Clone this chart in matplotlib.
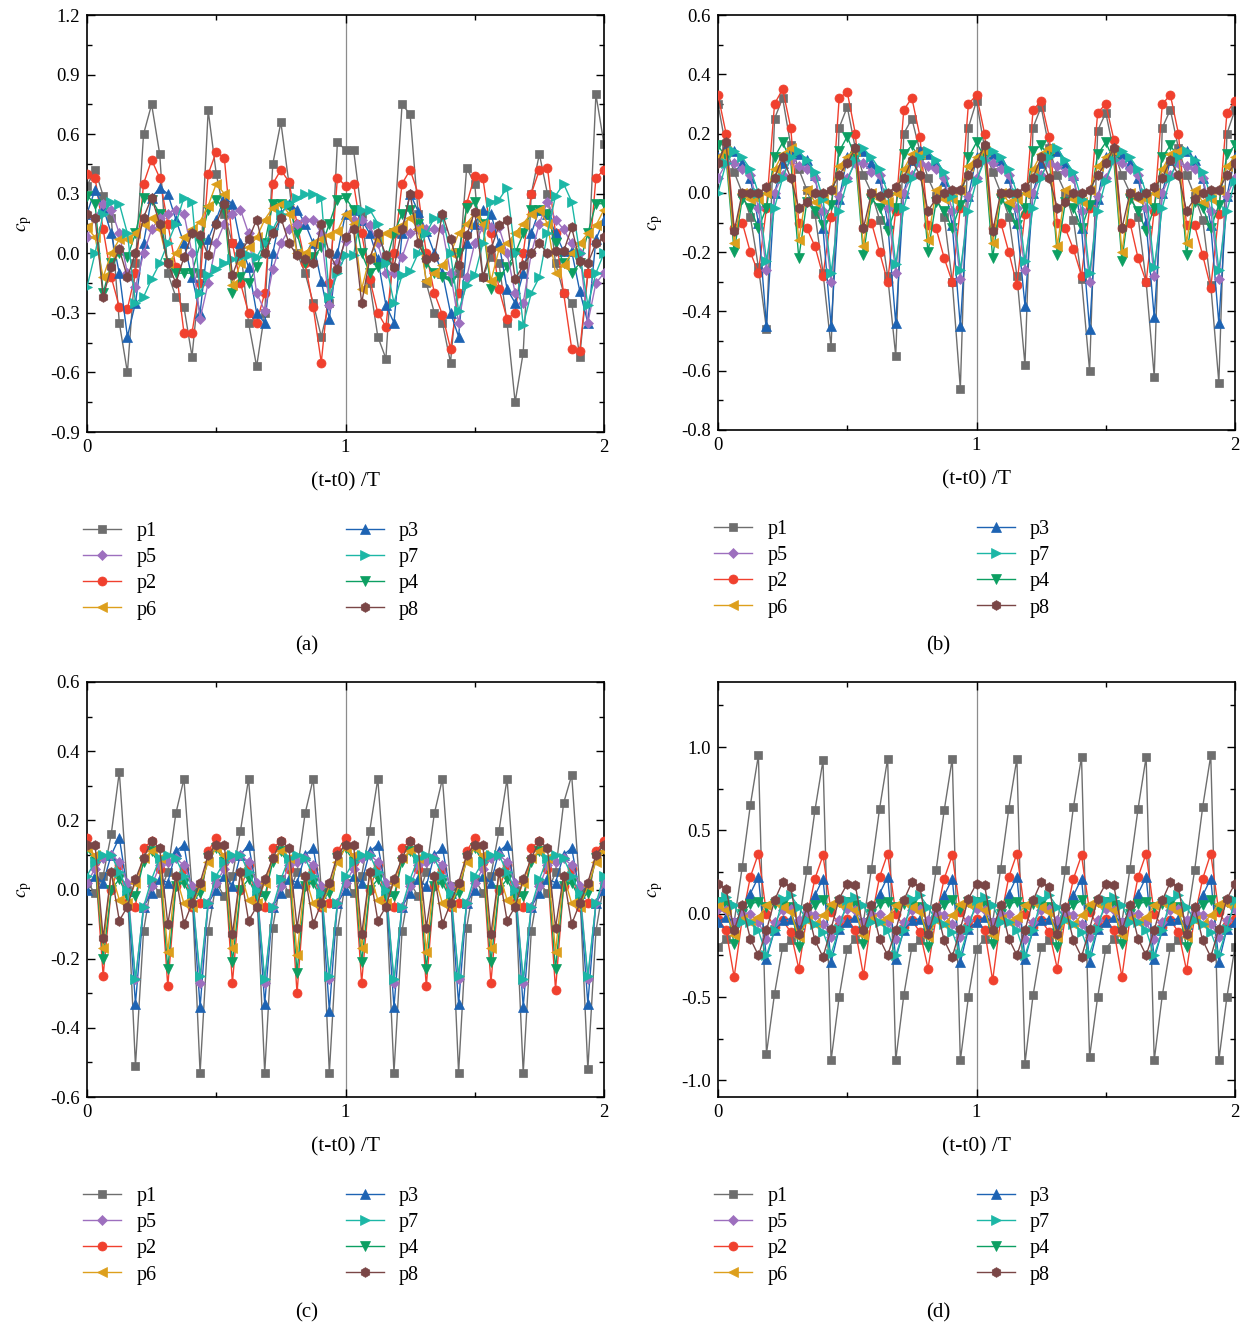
import numpy as np
import matplotlib
matplotlib.use("Agg")
import matplotlib.pyplot as plt
from matplotlib.ticker import MultipleLocator, FormatStrFormatter

plt.rcParams['font.family'] = ['Liberation Serif', 'DejaVu Serif']
plt.rcParams['mathtext.fontset'] = 'stix'

# time axis, 2 periods sampled every T/32
t = np.linspace(0, 2, 65)

# ---------------- panel (a) ----------------
a_p1 = [0.34, 0.42, 0.29, 0.18, -0.35, -0.60, -0.05, 0.60,
        0.75, 0.50, -0.10, -0.22, -0.27, -0.52, -0.10, 0.72,
        0.40, 0.20, 0.05, 0.03, -0.35, -0.57, -0.30, 0.45,
        0.66, 0.35, 0.00, -0.10, -0.25, -0.42, -0.25, 0.56,
        0.52, 0.52, 0.20, -0.15, -0.42, -0.53, 0.10, 0.75,
        0.70, 0.20, -0.15, -0.30, -0.35, -0.55, -0.10, 0.43,
        0.35, -0.12, -0.02, -0.05, -0.35, -0.75, -0.50, 0.30,
        0.50, 0.30, -0.05, -0.20, -0.25, -0.52, -0.10, 0.80,
        0.55]
a_p2 = [0.40, 0.38, 0.12, -0.12, -0.27, -0.28, -0.10, 0.35,
        0.47, 0.38, 0.15, -0.07, -0.40, -0.40, -0.15, 0.40,
        0.51, 0.48, 0.05, -0.15, -0.30, -0.35, -0.20, 0.35,
        0.42, 0.36, 0.15, -0.05, -0.27, -0.55, -0.15, 0.38,
        0.34, 0.35, 0.10, -0.13, -0.30, -0.37, 0.00, 0.35,
        0.42, 0.30, 0.00, -0.20, -0.31, -0.48, -0.20, 0.25,
        0.39, 0.38, 0.10, -0.18, -0.33, -0.30, 0.00, 0.30,
        0.42, 0.43, 0.10, -0.20, -0.48, -0.49, -0.10, 0.38,
        0.42]
a_p3 = [0.20, 0.32, 0.23, 0.10, -0.10, -0.42, -0.25, 0.05,
        0.28, 0.33, 0.30, 0.17, 0.05, -0.12, -0.30, 0.07,
        0.17, 0.28, 0.25, 0.05, -0.07, -0.30, -0.35, 0.00,
        0.20, 0.25, 0.22, 0.15, 0.05, -0.14, -0.33, 0.00,
        0.20, 0.22, 0.17, 0.10, -0.03, -0.26, -0.35, 0.10,
        0.30, 0.21, 0.11, 0.00, -0.10, -0.30, -0.42, 0.05,
        0.15, 0.22, 0.20, 0.05, -0.18, -0.25, -0.10, 0.10,
        0.22, 0.20, 0.10, 0.01, 0.01, -0.19, -0.35, 0.07,
        0.17]
a_p4 = [0.29, 0.25, -0.20, -0.05, 0.00, -0.02, 0.10, 0.28,
        0.27, 0.20, -0.05, -0.10, -0.10, -0.10, 0.05, 0.22,
        0.27, 0.22, -0.20, -0.12, -0.15, -0.07, 0.05, 0.25,
        0.25, 0.24, 0.10, -0.05, -0.02, 0.03, 0.15, 0.27,
        0.28, 0.22, 0.00, -0.10, -0.07, -0.05, 0.10, 0.20,
        0.22, 0.15, -0.05, -0.10, -0.12, -0.14, 0.00, 0.23,
        0.26, 0.15, -0.18, -0.12, -0.07, 0.00, 0.10, 0.22,
        0.22, 0.20, 0.05, -0.05, -0.10, -0.05, 0.10, 0.25,
        0.25]
a_p5 = [0.08, 0.18, 0.25, 0.22, 0.10, -0.10, -0.17, 0.00,
        0.12, 0.18, 0.20, 0.22, 0.20, 0.00, -0.33, -0.15,
        0.05, 0.15, 0.20, 0.22, 0.10, -0.20, -0.29, -0.08,
        0.05, 0.12, 0.15, 0.17, 0.17, 0.10, -0.26, -0.05,
        0.06, 0.17, 0.17, 0.14, 0.05, -0.10, -0.10, -0.02,
        0.10, 0.12, 0.12, 0.12, 0.12, -0.10, -0.35, -0.12,
        0.05, 0.13, 0.13, 0.13, 0.00, -0.20, -0.25, 0.00,
        0.15, 0.26, 0.17, 0.12, 0.05, 0.00, -0.35, -0.15,
        -0.10]
a_p6 = [0.13, 0.08, -0.12, 0.00, 0.07, 0.07, 0.10, 0.15,
        0.18, 0.12, -0.05, 0.00, 0.08, 0.12, 0.16, 0.24,
        0.35, 0.30, -0.16, -0.05, 0.03, 0.08, 0.17, 0.23,
        0.25, 0.20, 0.00, 0.00, 0.05, 0.07, 0.09, 0.11,
        0.20, 0.15, -0.18, -0.02, 0.07, 0.10, 0.12, 0.14,
        0.18, 0.12, -0.14, -0.10, -0.06, 0.00, 0.10, 0.15,
        0.20, 0.15, -0.14, 0.02, 0.05, 0.10, 0.15, 0.20,
        0.22, 0.15, -0.10, -0.06, 0.00, 0.05, 0.10, 0.14,
        0.22]
a_p7 = [-0.17, 0.00, 0.20, 0.26, 0.25, 0.10, -0.25, -0.22,
        -0.13, -0.05, 0.05, 0.15, 0.28, 0.26, -0.20, -0.11,
        -0.08, -0.05, -0.03, -0.02, -0.01, -0.02, 0.05, 0.12,
        0.20, 0.25, 0.28, 0.30, 0.30, 0.28, -0.22, -0.10,
        -0.01, -0.01, 0.22, 0.22, 0.15, -0.05, -0.25, -0.11,
        -0.09, 0.00, 0.10, 0.18, 0.18, 0.00, -0.29, -0.16,
        -0.11, 0.05, 0.26, 0.27, 0.33, 0.00, -0.36, -0.20,
        -0.12, 0.10, 0.29, 0.35, 0.26, 0.00, -0.26, -0.10,
        0.00]
a_p8 = [0.20, 0.18, -0.22, -0.07, 0.02, -0.12, 0.00, 0.18,
        0.28, 0.15, -0.05, -0.15, -0.02, 0.10, 0.09, -0.01,
        0.15, 0.25, -0.11, 0.00, 0.07, 0.17, 0.00, 0.10,
        0.18, 0.05, -0.01, -0.03, -0.05, 0.15, 0.00, -0.08,
        0.08, 0.12, -0.25, -0.03, 0.10, -0.01, -0.07, 0.12,
        0.30, 0.05, -0.03, -0.02, 0.20, 0.07, -0.06, 0.09,
        0.21, -0.12, 0.02, 0.14, 0.17, -0.13, -0.06, 0.00,
        0.05, 0.00, 0.01, 0.01, 0.13, -0.04, -0.05, 0.05,
        0.08]

# ---------------- panel (b) ----------------
b_p1 = [0.30, 0.15, 0.07, 0.00, -0.08, -0.25, -0.46, 0.25,
        0.32, 0.16, 0.08, 0.01, -0.07, -0.27, -0.52, 0.22,
        0.29, 0.15, 0.06, 0.00, -0.09, -0.28, -0.55, 0.20,
        0.25, 0.14, 0.05, -0.01, -0.08, -0.30, -0.66, 0.22,
        0.31, 0.15, 0.07, 0.00, -0.08, -0.28, -0.58, 0.22,
        0.29, 0.15, 0.06, 0.00, -0.09, -0.29, -0.60, 0.21,
        0.27, 0.14, 0.06, 0.00, -0.08, -0.30, -0.62, 0.22,
        0.28, 0.15, 0.06, -0.01, -0.09, -0.31, -0.64, 0.20,
        0.28]
b_p2 = [0.33, 0.20, -0.12, -0.10, -0.20, -0.27, -0.05, 0.30,
        0.35, 0.22, -0.10, -0.12, -0.18, -0.28, -0.08, 0.32,
        0.34, 0.20, -0.12, -0.10, -0.20, -0.30, -0.06, 0.28,
        0.32, 0.19, -0.11, -0.12, -0.22, -0.30, -0.05, 0.30,
        0.33, 0.20, -0.12, -0.10, -0.20, -0.31, -0.07, 0.28,
        0.31, 0.19, -0.10, -0.12, -0.19, -0.28, -0.05, 0.27,
        0.30, 0.18, -0.12, -0.10, -0.22, -0.30, -0.06, 0.30,
        0.33, 0.20, -0.11, -0.11, -0.21, -0.32, -0.07, 0.27,
        0.31]
b_p3 = [0.12, 0.15, 0.14, 0.10, 0.05, -0.10, -0.45, 0.00,
        0.10, 0.14, 0.13, 0.11, 0.06, -0.12, -0.45, -0.02,
        0.12, 0.15, 0.14, 0.10, 0.05, -0.10, -0.44, 0.00,
        0.11, 0.14, 0.13, 0.10, 0.04, -0.11, -0.45, -0.01,
        0.12, 0.15, 0.13, 0.11, 0.05, -0.10, -0.38, 0.00,
        0.10, 0.14, 0.14, 0.10, 0.06, -0.12, -0.46, -0.02,
        0.12, 0.15, 0.13, 0.10, 0.05, -0.10, -0.42, 0.00,
        0.11, 0.14, 0.14, 0.11, 0.05, -0.11, -0.44, -0.01,
        0.12]
b_p4 = [0.16, 0.12, -0.20, -0.02, -0.05, -0.12, -0.05, 0.12,
        0.17, 0.11, -0.22, -0.03, -0.06, -0.11, -0.04, 0.14,
        0.19, 0.12, -0.21, -0.02, -0.05, -0.13, -0.05, 0.13,
        0.16, 0.11, -0.20, -0.03, -0.06, -0.12, -0.04, 0.12,
        0.17, 0.12, -0.22, -0.02, -0.05, -0.11, -0.05, 0.14,
        0.16, 0.12, -0.21, -0.03, -0.05, -0.12, -0.04, 0.13,
        0.17, 0.11, -0.23, -0.02, -0.06, -0.13, -0.05, 0.12,
        0.16, 0.12, -0.21, -0.03, -0.05, -0.12, -0.04, 0.13,
        0.16]
b_p5 = [0.05, 0.10, 0.10, 0.08, 0.06, -0.05, -0.26, 0.00,
        0.06, 0.11, 0.09, 0.08, 0.05, -0.06, -0.30, -0.01,
        0.05, 0.10, 0.10, 0.07, 0.06, -0.05, -0.27, 0.00,
        0.06, 0.10, 0.09, 0.08, 0.05, -0.06, -0.29, -0.01,
        0.05, 0.11, 0.10, 0.08, 0.06, -0.05, -0.26, 0.00,
        0.06, 0.10, 0.09, 0.07, 0.05, -0.06, -0.30, -0.01,
        0.05, 0.11, 0.10, 0.08, 0.06, -0.05, -0.28, 0.00,
        0.06, 0.10, 0.09, 0.08, 0.05, -0.06, -0.29, -0.01,
        0.05]
b_p6 = [0.12, 0.14, -0.17, 0.00, -0.02, -0.02, 0.00, 0.08,
        0.13, 0.15, -0.16, 0.01, -0.03, -0.02, 0.01, 0.09,
        0.12, 0.14, -0.18, 0.00, -0.02, -0.03, 0.00, 0.08,
        0.13, 0.13, -0.16, 0.01, -0.02, -0.02, 0.01, 0.09,
        0.12, 0.14, -0.17, 0.00, -0.03, -0.02, 0.00, 0.08,
        0.13, 0.15, -0.18, 0.01, -0.02, -0.03, 0.01, 0.09,
        0.12, 0.14, -0.20, 0.00, -0.02, -0.02, 0.00, 0.08,
        0.13, 0.14, -0.17, 0.01, -0.03, -0.02, 0.01, 0.09,
        0.12]
b_p7 = [0.00, 0.10, 0.14, 0.12, 0.08, 0.00, -0.23, -0.05,
        0.05, 0.12, 0.14, 0.11, 0.07, -0.02, -0.27, -0.06,
        0.04, 0.11, 0.15, 0.12, 0.08, 0.00, -0.24, -0.05,
        0.05, 0.12, 0.14, 0.11, 0.07, -0.01, -0.26, -0.06,
        0.04, 0.11, 0.14, 0.12, 0.08, 0.00, -0.23, -0.05,
        0.05, 0.12, 0.15, 0.11, 0.07, -0.02, -0.27, -0.06,
        0.04, 0.11, 0.14, 0.12, 0.08, 0.00, -0.25, -0.05,
        0.05, 0.12, 0.14, 0.11, 0.07, -0.01, -0.26, -0.06,
        0.04]
b_p8 = [0.10, 0.17, -0.13, 0.00, 0.00, 0.00, 0.02, 0.05,
        0.12, 0.05, -0.05, -0.03, 0.00, 0.00, 0.01, 0.06,
        0.10, 0.15, -0.12, 0.00, -0.01, 0.00, 0.02, 0.05,
        0.11, 0.06, -0.06, -0.02, 0.00, 0.01, 0.01, 0.06,
        0.10, 0.16, -0.13, 0.00, 0.00, 0.00, 0.02, 0.05,
        0.12, 0.05, -0.05, -0.03, 0.00, 0.00, 0.01, 0.06,
        0.10, 0.15, -0.12, 0.00, -0.01, 0.00, 0.02, 0.05,
        0.11, 0.06, -0.06, -0.02, 0.00, 0.01, 0.01, 0.06,
        0.10]

# ---------------- panel (c) ----------------
c_p1 = [0.02, -0.01, 0.04, 0.16, 0.34, 0.00, -0.51, -0.12,
        0.02, -0.01, 0.05, 0.22, 0.32, 0.00, -0.53, -0.12,
        0.02, -0.02, 0.04, 0.17, 0.32, 0.01, -0.53, -0.11,
        0.03, -0.01, 0.05, 0.22, 0.32, 0.00, -0.53, -0.12,
        0.02, -0.01, 0.04, 0.17, 0.32, 0.00, -0.53, -0.12,
        0.02, -0.02, 0.05, 0.22, 0.32, 0.01, -0.53, -0.11,
        0.03, -0.01, 0.04, 0.17, 0.32, 0.00, -0.53, -0.12,
        0.02, -0.01, 0.05, 0.25, 0.33, 0.00, -0.52, -0.12,
        0.02]
c_p2 = [0.15, 0.08, -0.25, 0.00, 0.07, -0.04, -0.05, 0.12,
        0.14, 0.06, -0.28, 0.01, 0.06, -0.05, -0.04, 0.11,
        0.15, 0.08, -0.27, 0.00, 0.07, -0.04, -0.05, 0.12,
        0.14, 0.06, -0.30, 0.01, 0.06, -0.05, -0.04, 0.11,
        0.15, 0.08, -0.27, 0.00, 0.07, -0.04, -0.05, 0.12,
        0.14, 0.06, -0.28, 0.01, 0.06, -0.05, -0.04, 0.11,
        0.15, 0.08, -0.27, 0.00, 0.07, -0.04, -0.05, 0.12,
        0.14, 0.06, -0.29, 0.01, 0.06, -0.05, -0.04, 0.11,
        0.14]
c_p3 = [0.00, 0.04, 0.02, 0.10, 0.15, 0.00, -0.33, -0.05,
        -0.01, 0.03, 0.02, 0.11, 0.13, -0.01, -0.34, -0.04,
        0.00, 0.04, 0.01, 0.10, 0.13, 0.00, -0.33, -0.05,
        -0.01, 0.03, 0.02, 0.10, 0.12, -0.01, -0.35, -0.04,
        0.00, 0.04, 0.02, 0.11, 0.13, 0.00, -0.34, -0.05,
        -0.01, 0.03, 0.01, 0.10, 0.12, -0.01, -0.33, -0.04,
        0.00, 0.04, 0.02, 0.11, 0.13, 0.00, -0.34, -0.05,
        -0.01, 0.03, 0.02, 0.10, 0.12, -0.01, -0.33, -0.04,
        0.00]
c_p4 = [0.12, 0.08, -0.20, 0.00, 0.03, -0.02, -0.02, 0.08,
        0.11, 0.07, -0.23, 0.01, 0.02, -0.03, -0.01, 0.09,
        0.12, 0.08, -0.21, 0.00, 0.03, -0.02, -0.02, 0.08,
        0.11, 0.07, -0.24, 0.01, 0.02, -0.03, -0.01, 0.09,
        0.12, 0.08, -0.21, 0.00, 0.03, -0.02, -0.02, 0.08,
        0.11, 0.07, -0.23, 0.01, 0.02, -0.03, -0.01, 0.09,
        0.12, 0.08, -0.21, 0.00, 0.03, -0.02, -0.02, 0.08,
        0.11, 0.07, -0.23, 0.01, 0.02, -0.03, -0.01, 0.09,
        0.12]
c_p5 = [0.02, 0.06, 0.09, 0.10, 0.08, 0.02, -0.26, -0.05,
        0.01, 0.07, 0.08, 0.09, 0.07, 0.01, -0.27, -0.04,
        0.02, 0.06, 0.09, 0.10, 0.08, 0.02, -0.27, -0.05,
        0.01, 0.07, 0.08, 0.09, 0.07, 0.01, -0.26, -0.04,
        0.02, 0.06, 0.09, 0.10, 0.08, 0.02, -0.27, -0.05,
        0.01, 0.07, 0.08, 0.09, 0.07, 0.01, -0.26, -0.04,
        0.02, 0.06, 0.09, 0.10, 0.08, 0.02, -0.27, -0.05,
        0.01, 0.07, 0.08, 0.09, 0.07, 0.01, -0.26, -0.04,
        0.02]
c_p6 = [0.12, 0.10, -0.17, 0.05, -0.03, -0.04, 0.02, 0.09,
        0.11, 0.09, -0.18, 0.04, -0.04, -0.05, 0.01, 0.08,
        0.12, 0.10, -0.17, 0.05, -0.03, -0.04, 0.02, 0.09,
        0.11, 0.09, -0.19, 0.04, -0.04, -0.05, 0.01, 0.08,
        0.12, 0.10, -0.17, 0.05, -0.03, -0.04, 0.02, 0.09,
        0.11, 0.09, -0.18, 0.04, -0.04, -0.05, 0.01, 0.08,
        0.12, 0.10, -0.17, 0.05, -0.03, -0.04, 0.02, 0.09,
        0.11, 0.09, -0.18, 0.04, -0.04, -0.05, 0.01, 0.08,
        0.11]
c_p7 = [0.04, 0.08, 0.10, 0.10, 0.05, 0.00, -0.26, -0.05,
        0.03, 0.09, 0.10, 0.09, 0.04, -0.01, -0.25, -0.04,
        0.04, 0.08, 0.10, 0.10, 0.05, 0.00, -0.26, -0.05,
        0.03, 0.09, 0.10, 0.09, 0.04, -0.01, -0.25, -0.04,
        0.04, 0.08, 0.10, 0.10, 0.05, 0.00, -0.26, -0.05,
        0.03, 0.09, 0.10, 0.09, 0.04, -0.01, -0.25, -0.04,
        0.04, 0.08, 0.10, 0.10, 0.05, 0.00, -0.26, -0.05,
        0.03, 0.09, 0.10, 0.09, 0.04, -0.01, -0.25, -0.04,
        0.04]
c_p8 = [0.13, 0.13, -0.14, 0.05, -0.09, -0.05, 0.03, 0.09,
        0.14, 0.12, -0.10, 0.04, -0.10, -0.04, 0.02, 0.10,
        0.13, 0.13, -0.13, 0.05, -0.09, -0.05, 0.03, 0.09,
        0.14, 0.12, -0.11, 0.04, -0.10, -0.04, 0.02, 0.10,
        0.13, 0.13, -0.13, 0.05, -0.09, -0.05, 0.03, 0.09,
        0.14, 0.12, -0.11, 0.04, -0.10, -0.04, 0.02, 0.10,
        0.13, 0.13, -0.13, 0.05, -0.09, -0.05, 0.03, 0.09,
        0.14, 0.12, -0.11, 0.04, -0.10, -0.04, 0.02, 0.10,
        0.13]

# ---------------- panel (d) ----------------
d_p1 = [-0.20, -0.15, -0.05, 0.28, 0.65, 0.95, -0.84, -0.48,
        -0.20, -0.16, -0.06, 0.26, 0.62, 0.92, -0.88, -0.50,
        -0.21, -0.15, -0.05, 0.27, 0.63, 0.93, -0.88, -0.49,
        -0.20, -0.16, -0.06, 0.26, 0.62, 0.93, -0.88, -0.50,
        -0.21, -0.15, -0.05, 0.27, 0.63, 0.93, -0.90, -0.49,
        -0.20, -0.16, -0.06, 0.26, 0.64, 0.94, -0.86, -0.50,
        -0.21, -0.15, -0.05, 0.27, 0.63, 0.94, -0.88, -0.49,
        -0.20, -0.16, -0.06, 0.26, 0.64, 0.95, -0.88, -0.50,
        -0.20]
d_p2 = [-0.03, -0.10, -0.38, -0.03, 0.22, 0.36, 0.00, -0.08,
        -0.04, -0.11, -0.33, -0.02, 0.21, 0.35, 0.01, -0.07,
        -0.03, -0.10, -0.37, -0.03, 0.22, 0.36, 0.00, -0.08,
        -0.04, -0.11, -0.33, -0.02, 0.21, 0.35, 0.01, -0.07,
        -0.03, -0.10, -0.40, -0.03, 0.22, 0.36, 0.00, -0.08,
        -0.04, -0.11, -0.33, -0.02, 0.21, 0.35, 0.01, -0.07,
        -0.03, -0.10, -0.38, -0.03, 0.22, 0.36, 0.00, -0.08,
        -0.04, -0.11, -0.34, -0.02, 0.21, 0.36, 0.01, -0.07,
        -0.03]
d_p3 = [-0.05, -0.02, -0.05, 0.00, 0.12, 0.22, -0.27, -0.10,
        -0.04, -0.03, -0.06, 0.01, 0.11, 0.21, -0.29, -0.09,
        -0.05, -0.02, -0.05, 0.00, 0.12, 0.22, -0.27, -0.10,
        -0.04, -0.03, -0.06, 0.01, 0.11, 0.21, -0.29, -0.09,
        -0.05, -0.02, -0.05, 0.00, 0.12, 0.22, -0.27, -0.10,
        -0.04, -0.03, -0.06, 0.01, 0.11, 0.21, -0.29, -0.09,
        -0.05, -0.02, -0.05, 0.00, 0.12, 0.22, -0.27, -0.10,
        -0.04, -0.03, -0.06, 0.01, 0.11, 0.21, -0.29, -0.09,
        -0.05]
d_p4 = [0.07, 0.05, -0.18, 0.00, 0.06, 0.07, 0.04, 0.06,
        0.06, 0.04, -0.20, 0.01, 0.05, 0.08, 0.03, 0.07,
        0.07, 0.05, -0.18, 0.00, 0.06, 0.07, 0.04, 0.06,
        0.06, 0.04, -0.20, 0.01, 0.05, 0.08, 0.03, 0.07,
        0.07, 0.05, -0.18, 0.00, 0.06, 0.07, 0.04, 0.06,
        0.06, 0.04, -0.20, 0.01, 0.05, 0.08, 0.03, 0.07,
        0.07, 0.05, -0.18, 0.00, 0.06, 0.07, 0.04, 0.06,
        0.06, 0.04, -0.20, 0.01, 0.05, 0.08, 0.03, 0.07,
        0.07]
d_p5 = [0.03, 0.02, -0.05, 0.00, 0.00, -0.05, -0.15, -0.05,
        0.02, 0.03, -0.04, 0.01, -0.01, -0.06, -0.14, -0.04,
        0.03, 0.02, -0.05, 0.00, 0.00, -0.05, -0.15, -0.05,
        0.02, 0.03, -0.04, 0.01, -0.01, -0.06, -0.14, -0.04,
        0.03, 0.02, -0.05, 0.00, 0.00, -0.05, -0.15, -0.05,
        0.02, 0.03, -0.04, 0.01, -0.01, -0.06, -0.14, -0.04,
        0.03, 0.02, -0.05, 0.00, 0.00, -0.05, -0.15, -0.05,
        0.02, 0.03, -0.04, 0.01, -0.01, -0.06, -0.14, -0.04,
        0.03]
d_p6 = [0.05, 0.02, -0.13, -0.03, -0.05, -0.02, 0.05, 0.07,
        0.04, 0.01, -0.14, -0.04, -0.06, -0.01, 0.06, 0.06,
        0.05, 0.02, -0.13, -0.03, -0.05, -0.02, 0.05, 0.07,
        0.04, 0.01, -0.14, -0.04, -0.06, -0.01, 0.06, 0.06,
        0.05, 0.02, -0.13, -0.03, -0.05, -0.02, 0.05, 0.07,
        0.04, 0.01, -0.14, -0.04, -0.06, -0.01, 0.06, 0.06,
        0.05, 0.02, -0.13, -0.03, -0.05, -0.02, 0.05, 0.07,
        0.04, 0.01, -0.14, -0.04, -0.06, -0.01, 0.06, 0.06,
        0.05]
d_p7 = [0.08, 0.10, 0.05, -0.05, -0.05, -0.10, -0.25, -0.10,
        0.09, 0.11, 0.04, -0.04, -0.06, -0.11, -0.24, -0.09,
        0.08, 0.10, 0.05, -0.05, -0.05, -0.10, -0.25, -0.10,
        0.09, 0.11, 0.04, -0.04, -0.06, -0.11, -0.24, -0.09,
        0.08, 0.10, 0.05, -0.05, -0.05, -0.10, -0.25, -0.10,
        0.09, 0.11, 0.04, -0.04, -0.06, -0.11, -0.24, -0.09,
        0.08, 0.10, 0.05, -0.05, -0.05, -0.10, -0.25, -0.10,
        0.09, 0.11, 0.04, -0.04, -0.06, -0.11, -0.24, -0.09,
        0.08]
d_p8 = [0.18, 0.15, -0.10, 0.05, -0.15, -0.25, -0.10, 0.08,
        0.19, 0.16, -0.12, 0.04, -0.16, -0.26, -0.09, 0.09,
        0.18, 0.17, -0.10, 0.05, -0.15, -0.25, -0.10, 0.08,
        0.19, 0.16, -0.12, 0.04, -0.16, -0.26, -0.09, 0.09,
        0.18, 0.17, -0.10, 0.05, -0.15, -0.25, -0.10, 0.08,
        0.19, 0.16, -0.12, 0.04, -0.16, -0.26, -0.09, 0.09,
        0.18, 0.17, -0.10, 0.05, -0.15, -0.25, -0.10, 0.08,
        0.19, 0.16, -0.12, 0.04, -0.16, -0.26, -0.09, 0.09,
        0.18]

names = ['p1', 'p2', 'p3', 'p4', 'p5', 'p6', 'p7', 'p8']
colors = ['#6e6e6e', '#f0402e', '#1d63b3', '#0c9f62',
          '#9d6fbe', '#dd9f1c', '#1cb7a6', '#7a4646']
markers = ['s', 'o', '^', 'v', 'D', '<', '>', 'h']
msizes = [5.5, 6.5, 6.5, 6.5, 5.5, 6.5, 6.5, 7]
legend_order = [0, 4, 1, 5, 2, 6, 3, 7]

panels = [
    ([a_p1, a_p2, a_p3, a_p4, a_p5, a_p6, a_p7, a_p8], (-0.9, 1.2), 0.3, 0.15, '(a)'),
    ([b_p1, b_p2, b_p3, b_p4, b_p5, b_p6, b_p7, b_p8], (-0.8, 0.6), 0.2, 0.1, '(b)'),
    ([c_p1, c_p2, c_p3, c_p4, c_p5, c_p6, c_p7, c_p8], (-0.6, 0.6), 0.2, 0.1, '(c)'),
    ([d_p1, d_p2, d_p3, d_p4, d_p5, d_p6, d_p7, d_p8], (-1.1, 1.39), 0.5, 0.25, '(d)'),
]

W, H = 1247, 1327
fig = plt.figure(figsize=(W / 100, H / 100), dpi=100)

# axes boxes in pixels: left, right, top, bottom
boxes = [(87, 604, 15, 432), (718, 1235, 15, 430),
         (87, 604, 682, 1097), (718, 1235, 682, 1097)]
label_x = [307, 938, 307, 938]
label_y = [646, 646, 1313, 1313]

for i, (series, ylim, major, minor, tag) in enumerate(panels):
    l, r, tp, bt = boxes[i]
    ax = fig.add_axes([l / W, 1 - bt / H, (r - l) / W, (bt - tp) / H])
    ax.axvline(1, color='#8c8c8c', lw=0.9, zorder=1)
    handles = []
    for j in range(8):
        ln, = ax.plot(t, series[j], color=colors[j], lw=1.0, marker=markers[j],
                      ms=msizes[j], mec=colors[j], mew=0.5, label=names[j], zorder=2 + j)
        handles.append(ln)
    ax.set_xlim(0, 2)
    ax.set_ylim(*ylim)
    ax.xaxis.set_major_locator(MultipleLocator(1))
    ax.xaxis.set_minor_locator(MultipleLocator(0.5))
    ax.yaxis.set_major_locator(MultipleLocator(major))
    ax.yaxis.set_minor_locator(MultipleLocator(minor))
    ax.xaxis.set_major_formatter(FormatStrFormatter('%d'))
    ax.yaxis.set_major_formatter(FormatStrFormatter('%.1f'))
    ax.tick_params(which='both', direction='in', top=True, right=True,
                   labelsize=13.5, width=1.0, pad=5)
    ax.tick_params(which='major', length=6)
    ax.tick_params(which='minor', length=3.5)
    for sp in ax.spines.values():
        sp.set_linewidth(1.2)
    ax.set_xlabel('(t-t0) /T', fontsize=15.5, labelpad=12)
    ax.set_ylabel(r'$c_\mathrm{p}$', fontsize=14, labelpad=12)

    hs = [handles[k] for k in legend_order]
    fig.legend(hs, [h.get_label() for h in hs], loc='upper left',
               bbox_to_anchor=((l - 4) / W, 1 - (bt + 90) / H),
               ncol=2, frameon=False, fontsize=14.5, handlelength=1.9,
               handletextpad=0.75, columnspacing=9.4, labelspacing=0.35,
               borderpad=0, borderaxespad=0)
    fig.text(label_x[i] / W, 1 - label_y[i] / H, tag, fontsize=15,
             ha='center', va='center')

fig.savefig('out.png', dpi=100)
